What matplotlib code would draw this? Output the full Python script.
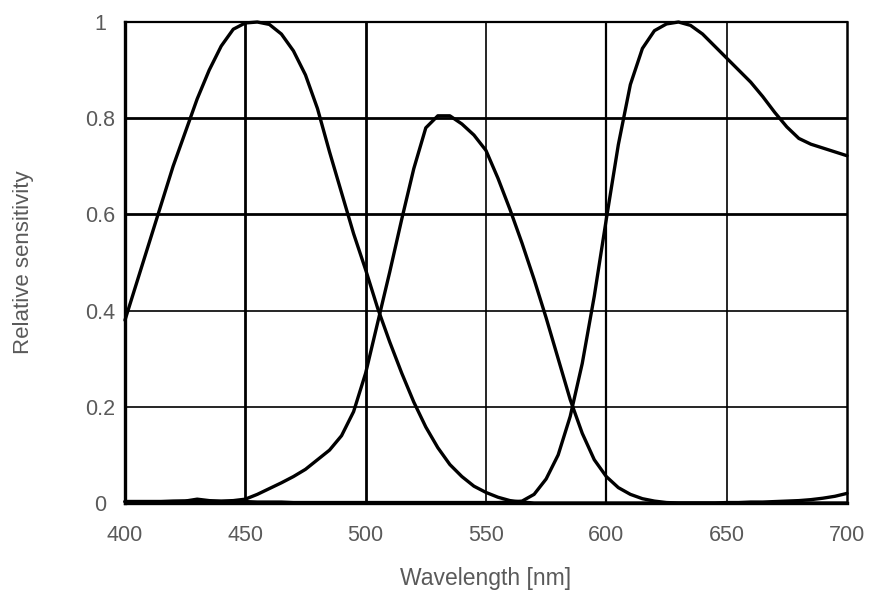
import matplotlib
matplotlib.use("Agg")
import matplotlib.pyplot as plt

wavelength = list(range(400, 705, 5))

blue = [0.38, 0.46, 0.54, 0.62, 0.70, 0.77, 0.84, 0.90, 0.95, 0.985,
        0.998, 1.0, 0.995, 0.975, 0.94, 0.89, 0.82, 0.73, 0.645, 0.56,
        0.485, 0.405, 0.335, 0.27, 0.21, 0.158, 0.115, 0.08, 0.055, 0.035,
        0.022, 0.012, 0.005, 0.002, 0.0, 0.0, 0.0, 0.0, 0.0, 0.0,
        0.0, 0.0, 0.0, 0.0, 0.0, 0.0, 0.0, 0.0, 0.0, 0.0,
        0.001, 0.001, 0.002, 0.002, 0.003, 0.004, 0.005, 0.007, 0.01, 0.014,
        0.02]

green = [0.003, 0.003, 0.003, 0.003, 0.004, 0.004, 0.005, 0.004, 0.004, 0.005,
         0.008, 0.018, 0.03, 0.042, 0.055, 0.07, 0.09, 0.11, 0.14, 0.19,
         0.27, 0.375, 0.48, 0.59, 0.695, 0.78, 0.805, 0.805, 0.788, 0.765,
         0.733, 0.675, 0.61, 0.54, 0.465, 0.385, 0.30, 0.215, 0.145, 0.09,
         0.055, 0.032, 0.018, 0.009, 0.004, 0.001, 0.0, 0.0, 0.0, 0.0,
         0.0, 0.0, 0.0, 0.0, 0.0, 0.0, 0.0, 0.0, 0.0, 0.0,
         0.0]

red = [0.003, 0.003, 0.003, 0.003, 0.003, 0.004, 0.008, 0.005, 0.003, 0.003,
       0.003, 0.002, 0.002, 0.002, 0.001, 0.001, 0.001, 0.001, 0.001, 0.001,
       0.001, 0.001, 0.001, 0.001, 0.001, 0.001, 0.001, 0.001, 0.001, 0.001,
       0.001, 0.001, 0.002, 0.004, 0.018, 0.05, 0.10, 0.18, 0.29, 0.43,
       0.59, 0.745, 0.87, 0.945, 0.982, 0.996, 1.0, 0.993, 0.975, 0.95,
       0.925, 0.90, 0.875, 0.845, 0.812, 0.782, 0.758, 0.746, 0.738, 0.73,
       0.722]

x_ticks = [400, 450, 500, 550, 600, 650, 700]
x_tick_labels = ["400", "450", "500", "550", "600", "650", "700"]
y_ticks = [0, 0.2, 0.4, 0.6, 0.8, 1.0]
y_tick_labels = ["0", "0.2", "0.4", "0.6", "0.8", "1"]

plt.rcParams['font.family'] = ['Liberation Sans', 'DejaVu Sans']

fig = plt.figure(figsize=(8.72, 5.95), dpi=100)
ax = fig.add_axes([0.1433, 0.1546, 0.8280, 0.8084])

# grid lines (varying stroke like the reference raster)
vwidths = {450: 2.0, 500: 2.0, 550: 1.2, 600: 1.6, 650: 1.2}
for xv in x_ticks[1:-1]:
    ax.axvline(xv, color="black", lw=vwidths[xv], zorder=1)
hwidths = {0.2: 1.2, 0.4: 1.2, 0.6: 2.0, 0.8: 2.0}
for yv in y_ticks[1:-1]:
    ax.axhline(yv, color="black", lw=hwidths[yv], zorder=1)

for series in (blue, green, red):
    ax.plot(wavelength, series, color="black", lw=2.4, zorder=3,
            solid_joinstyle="round", solid_capstyle="round", clip_on=False)

ax.set_xlim(400, 700)
ax.set_ylim(0, 1)
ax.set_xticks(x_ticks)
ax.set_xticklabels(x_tick_labels)
ax.set_yticks(y_ticks)
ax.set_yticklabels(y_tick_labels, ha="center")
ax.tick_params(length=0, labelsize=15.5, labelcolor="#5a5a5a")
ax.tick_params(axis="y", pad=18)
ax.tick_params(axis="x", pad=16)

for side, w in (("left", 2.4), ("bottom", 2.4), ("top", 1.6), ("right", 1.8)):
    ax.spines[side].set_linewidth(w)
    ax.spines[side].set_color("black")
    ax.spines[side].set_zorder(4)

fig.text(486 / 872, 1 - 578 / 595, "Wavelength [nm]", fontsize=16.5,
         color="#5a5a5a", ha="center", va="center")
fig.text(23 / 872, 1 - 262 / 595, "Relative sensitivity", fontsize=16,
         color="#5a5a5a", ha="center", va="center", rotation=90)

fig.savefig("out.png", dpi=100)
